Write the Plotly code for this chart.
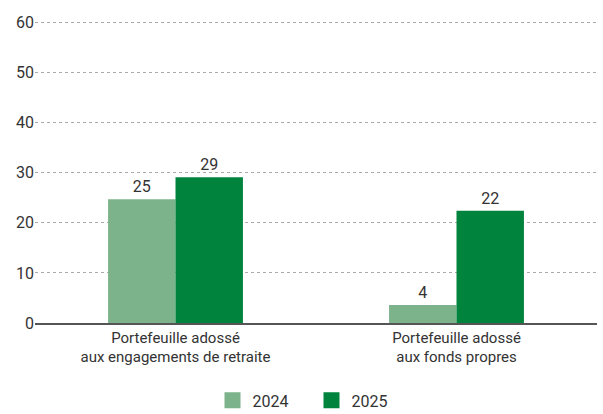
import plotly.graph_objects as go

categories = ["Portefeuille adossé<br>aux engagements de retraite", "Portefeuille adossé<br>aux fonds propres"]
values_2024 = [24.7, 3.6]
values_2025 = [29.1, 22.4]
tick_vals = [0, 10, 20, 30, 40, 50, 60]
series_names = ["2024", "2025"]
colors = ["#7db38b", "#00843d"]

FONT = "Roboto, sans-serif"
TXT = "#333333"

fig = go.Figure()
for name, vals, col in zip(series_names, [values_2024, values_2025], colors):
    fig.add_trace(go.Bar(name=name, x=categories, y=vals, marker_color=col,
                         marker_line_width=0, showlegend=False,
                         texttemplate="%{y:.0f}", textposition="outside", cliponaxis=False,
                         textfont=dict(size=16, color=TXT)))
for name, col in zip(series_names, colors):
    fig.add_trace(go.Scatter(name=name, x=[None], y=[None], mode="markers",
                             marker=dict(symbol="square", size=17, color=col),
                             showlegend=True))

fig.update_layout(
    width=603, height=414,
    margin=dict(l=35, r=6, t=21, b=91, autoexpand=False),
    paper_bgcolor="white", plot_bgcolor="white",
    barmode="group", bargap=0.52, bargroupgap=0,
    font=dict(family=FONT, size=16, color=TXT),
    showlegend=True,
    legend=dict(orientation="h", x=0.492, xanchor="center", y=-0.2, yanchor="top",
                font=dict(size=16, color=TXT), itemwidth=30, traceorder="normal",
                itemsizing="trace", tracegroupgap=0,
                entrywidth=54, entrywidthmode="pixels"),
    xaxis=dict(showline=True, linecolor="#555555", linewidth=1.5, ticks="",
               tickfont=dict(size=15, color=TXT), automargin=False),
    yaxis=dict(range=[0, 60.3], tickvals=tick_vals, showgrid=True, gridcolor="#aaaaaa",
               griddash="dot", gridwidth=1, zeroline=False, showline=False,
               tickfont=dict(size=16, color=TXT), ticks="", automargin=False),
)

fig.write_html("out.html", config={"displayModeBar": False},
               post_script="document.body.style.margin='0';document.body.style.padding='0';")
